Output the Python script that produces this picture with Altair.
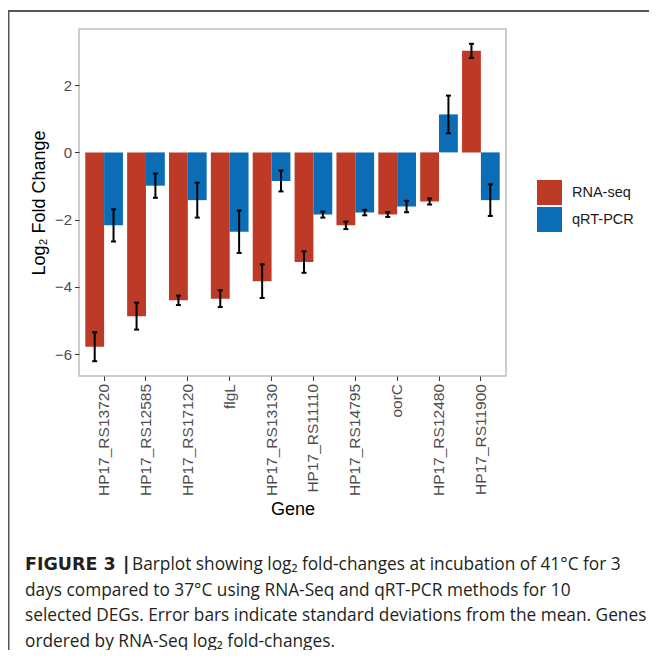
import altair as alt
import pandas as pd

genes = ["HP17_RS13720", "HP17_RS12585", "HP17_RS17120", "flgL", "HP17_RS13130",
         "HP17_RS11110", "HP17_RS14795", "oorC", "HP17_RS12480", "HP17_RS11900"]
methods = ["RNA-seq", "qRT-PCR"]
rna_seq = [-5.78, -4.87, -4.40, -4.35, -3.83, -3.26, -2.17, -1.85, -1.46, 3.02]
rna_seq_sd = [0.43, 0.40, 0.14, 0.25, 0.50, 0.32, 0.11, 0.07, 0.09, 0.21]
qrt_pcr = [-2.17, -0.99, -1.42, -2.36, -0.85, -1.85, -1.79, -1.61, 1.13, -1.42]
qrt_pcr_sd = [0.48, 0.36, 0.52, 0.63, 0.31, 0.09, 0.08, 0.17, 0.56, 0.47]
colors = ["#BD3A27", "#0B6DB6"]
y_ticks = [-6, -4, -2, 0, 2]

caption_bold = "FIGURE 3"
caption_sep = "|"
caption_first = "Barplot showing log\u2082 fold-changes at incubation of 41\u00b0C for 3"
caption_rest = [
    "days compared to 37\u00b0C using RNA-Seq and qRT-PCR methods for 10",
    "selected DEGs. Error bars indicate standard deviations from the mean. Genes",
    "ordered by RNA-Seq log\u2082 fold-changes.",
]

rows = []
for g, v, s in zip(genes, rna_seq, rna_seq_sd):
    rows.append({"gene": g, "method": methods[0], "value": v, "sd": s})
for g, v, s in zip(genes, qrt_pcr, qrt_pcr_sd):
    rows.append({"gene": g, "method": methods[1], "value": v, "sd": s})
df = pd.DataFrame(rows)
df["lo"] = df["value"] - df["sd"]
df["hi"] = df["value"] + df["sd"]

W, H = 427, 347
FONT = "Liberation Sans"

x_enc = alt.X(
    "gene:N", sort=genes,
    scale=alt.Scale(paddingInner=0.1, paddingOuter=0.15),
    axis=alt.Axis(title="Gene", labelAngle=270, labelFontSize=15.5, labelColor="#4D4D4D",
                  tickColor="#333333", tickSize=4.5, labelPadding=3, domain=False, grid=False,
                  titleFontSize=18, titleFontWeight="normal", titleColor="black",
                  titleX=W / 2, titleY=133, titleBaseline="middle"),
)
xo_enc = alt.XOffset("method:N", scale=alt.Scale(domain=methods))
y_scale = alt.Scale(domain=[-6.65, 3.67], nice=False, zero=False)
y_enc = alt.Y(
    "value:Q", scale=y_scale, stack=False,
    axis=alt.Axis(title="Log\u2082 Fold Change", values=y_ticks, labelFontSize=15,
                  labelColor="#4D4D4D", tickColor="#333333", tickSize=4.5, labelPadding=3,
                  domain=False, grid=False, titleFontSize=18, titleFontWeight="normal",
                  titleColor="black", titleX=-40, titleY=H / 2, titleBaseline="middle"),
)

bars = alt.Chart(df).mark_bar().encode(
    x=x_enc, xOffset=xo_enc, y=y_enc,
    color=alt.Color("method:N", scale=alt.Scale(domain=methods, range=colors), title=None,
                    legend=alt.Legend(orient="none", legendX=458, legendY=151,
                                      symbolType="square", symbolSize=625,
                                      symbolStrokeWidth=0, symbolOpacity=1,
                                      labelFontSize=14.5, labelColor="#1A1A1A",
                                      labelOffset=10, rowPadding=2, padding=0)),
)
err = alt.Chart(df).mark_rule(color="black", strokeWidth=2).encode(
    x=x_enc, xOffset=xo_enc, y=alt.Y("lo:Q", scale=y_scale), y2="hi:Q")
cap_lo = alt.Chart(df).mark_tick(color="black", thickness=2, size=5, opacity=1).encode(
    x=x_enc, xOffset=xo_enc, y=alt.Y("lo:Q", scale=y_scale))
cap_hi = alt.Chart(df).mark_tick(color="black", thickness=2, size=5, opacity=1).encode(
    x=x_enc, xOffset=xo_enc, y=alt.Y("hi:Q", scale=y_scale))

one = alt.Data(values=[{}])
frame_top = alt.Chart(one).mark_rule(color="#555555", strokeWidth=2).encode(
    x=alt.value(-71), x2=alt.value(575), y=alt.value(-18))
frame_left = alt.Chart(one).mark_rule(color="#555555", strokeWidth=2).encode(
    x=alt.value(-70.5), y=alt.value(-18), y2=alt.value(630))

CAP_X = -54
CAP_FONT = "Open Sans"
CAP_SIZE = 17.3
CAP_COLOR = "#231F20"
cap_y = [541, 566.5, 592, 617.5]


def cap_text(txt, xx, yy, font=CAP_FONT, size=CAP_SIZE, weight="normal"):
    return alt.Chart(one).mark_text(
        text=txt, align="left", baseline="alphabetic", font=font, fontSize=size,
        fontWeight=weight, color=CAP_COLOR,
    ).encode(x=alt.value(xx), y=alt.value(yy))


layers = [bars, err, cap_lo, cap_hi, frame_top, frame_left]
layers.append(cap_text(caption_bold, CAP_X, cap_y[0], font="DejaVu Sans", size=17.5, weight="bold"))
layers.append(cap_text(caption_sep, 44, cap_y[0], font="DejaVu Sans", size=17.5, weight="bold"))
layers.append(cap_text(caption_first, 53, cap_y[0]))
for line, yy in zip(caption_rest, cap_y[1:]):
    layers.append(cap_text(line, CAP_X, yy))

chart = alt.layer(*layers).properties(
    width=W, height=H,
    autosize=alt.AutoSizeParams(type="none"),
    padding={"left": 71, "top": 21, "right": 143, "bottom": 274},
).configure(font=FONT).configure_view(stroke="#BDBDBD", strokeWidth=1.5)

chart.save("out.html", embed_options={"renderer": "svg", "actions": False})
